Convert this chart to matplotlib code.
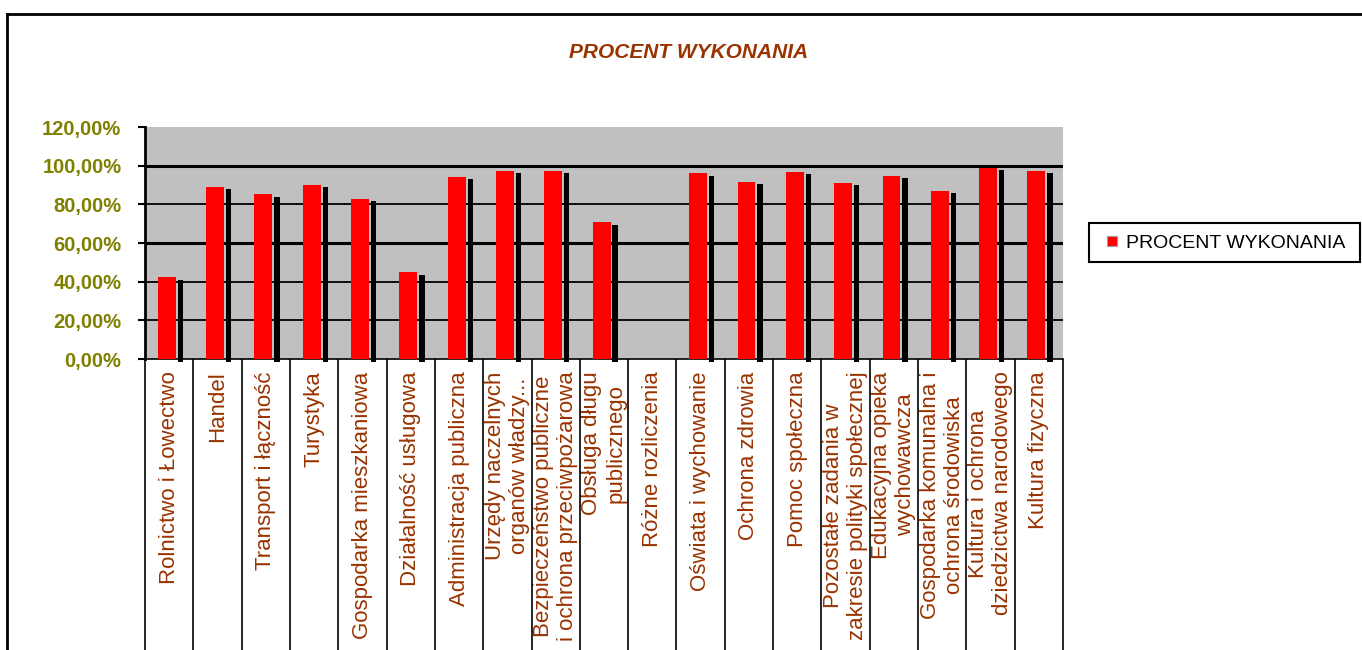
import matplotlib
matplotlib.use("Agg")
import matplotlib.pyplot as plt
from matplotlib.lines import Line2D
import numpy as np

plt.rcParams['font.family'] = ['Liberation Sans', 'DejaVu Sans']

# dane
categories = [
    "Rolnictwo i Łowectwo",
    "Handel",
    "Transport i łączność",
    "Turystyka",
    "Gospodarka mieszkaniowa",
    "Działalność usługowa",
    "Administracja publiczna",
    "Urzędy naczelnych\norganów władzy...",
    "Bezpieczeństwo publiczne\ni ochrona przeciwpożarowa",
    "Obsługa długu\npublicznego",
    "Różne rozliczenia",
    "Oświata i wychowanie",
    "Ochrona zdrowia",
    "Pomoc społeczna",
    "Pozostałe zadania w\nzakresie polityki społecznej",
    "Edukacyjna opieka\nwychowawcza",
    "Gospodarka komunalna i\nochrona środowiska",
    "Kultura i ochrona\ndziedzictwa narodowego",
    "Kultura fizyczna",
]
procent = [42.4, 89.2, 85.1, 90.2, 83.0, 44.9, 94.3, 97.4, 97.4, 70.7,
           0.0, 96.0, 91.8, 96.9, 91.2, 94.8, 87.1, 98.9, 97.4]
y_ticks = [0, 20, 40, 60, 80, 100, 120]
y_labels = ["0,00%", "20,00%", "40,00%", "60,00%", "80,00%", "100,00%", "120,00%"]
series_name = "PROCENT WYKONANIA"

brown = "#993300"
olive = "#808000"

W, H = 1362, 650
fig = plt.figure(figsize=(W / 100, H / 100), dpi=100)
fig.patch.set_facecolor("white")

ax = fig.add_axes([145 / W, 1 - 359 / H, (1063 - 145) / W, (359 - 127) / H])
ax.set_facecolor("#C0C0C0")

x = np.arange(len(categories))

# linie siatki
for t in y_ticks[1:-1]:
    ax.axhline(t, color="black", lw=2.2 if t in (60, 100) else 1.3, zorder=1)

# cien (czarny pasek) i slupki
ax.bar(x + 0.175, procent, width=0.11, bottom=-1.4, align="edge",
       color="black", zorder=2, clip_on=False)
ax.bar(x - 0.235, procent, width=0.37, align="edge",
       color="#FF0000", zorder=3)

ax.set_xlim(-0.5, len(categories) - 0.5)
ax.set_ylim(0, 120)

ax.set_yticks(y_ticks)
ax.set_yticklabels(y_labels)
ax.tick_params(axis="y", direction="out", length=5, width=1.5, pad=12,
               labelsize=14.5, labelcolor=olive)
for lab in ax.get_yticklabels():
    lab.set_fontweight("bold")

ax.set_xticks(x)
ax.set_xticklabels(categories, rotation=90, va="top", ha="center",
                   fontsize=16, color=brown)
ax.tick_params(axis="x", which="major", length=0, pad=9)
ax.set_xticks(np.arange(len(categories) + 1) - 0.5, minor=True)
ax.tick_params(axis="x", which="minor", direction="out", length=230, width=1.2)

for s in ["top", "right"]:
    ax.spines[s].set_visible(False)
ax.spines["left"].set_linewidth(2)
ax.spines["bottom"].set_linewidth(1.2)

# tytul
fig.text(689 / W, 1 - 53 / H, "PROCENT WYKONANIA", ha="center", va="center",
         fontsize=15, fontweight="bold", fontstyle="italic", color=brown)

# legenda
handle = Line2D([], [], marker="s", linestyle="none", markersize=6.5,
                markerfacecolor="#FF0000", markeredgecolor="#A0A0A0",
                markeredgewidth=0.8, label=series_name)
leg = ax.legend(handles=[handle], loc="center", mode="expand",
                bbox_to_anchor=(1089 / W, 1 - 264 / H, 271 / W, 42 / H),
                bbox_transform=fig.transFigure, fancybox=False,
                edgecolor="black", framealpha=1, fontsize=14,
                handlelength=1.3, handletextpad=0.05,
                borderpad=0.55, borderaxespad=0)
leg.get_frame().set_linewidth(1.5)

# ramka wykresu
fig.add_artist(Line2D([7 / W, 1], [1 - 14 / H, 1 - 14 / H], color="black", lw=2))
fig.add_artist(Line2D([7 / W, 7 / W], [0, 1 - 14 / H], color="black", lw=2))

fig.savefig("out.png", dpi=100)
